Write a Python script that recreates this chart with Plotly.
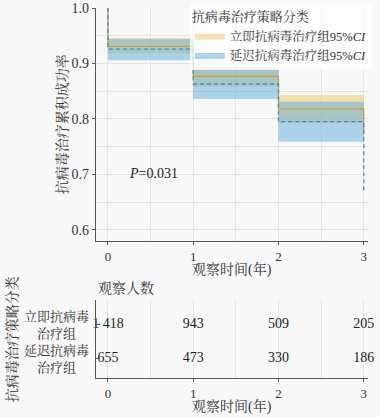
import plotly.graph_objects as go

# ---- data ----
km_times = [0, 0, 1, 2, 3, 3]
surv_immediate = [1.0, 0.931, 0.877, 0.818, 0.818, 0.775]
surv_delayed = [1.0, 0.926, 0.863, 0.795, 0.795, 0.667]

ci_times = [0, 1, 2, 3]
ci_imm_upper = [0.946, 0.894, 0.843, 0.843]
ci_imm_lower = [0.918, 0.858, 0.793, 0.793]
ci_del_upper = [0.944, 0.890, 0.831, 0.831]
ci_del_lower = [0.906, 0.836, 0.759, 0.759]

group_names = ["立即抗病毒治疗组95%<i>CI</i>", "延迟抗病毒治疗组95%<i>CI</i>"]
row_labels = ["立即抗病毒<br>治疗组", "延迟抗病毒<br>治疗组"]
risk_times = [0, 1, 2, 3]
risk_immediate = ["1 418", "943", "509", "205"]
risk_delayed = ["655", "473", "330", "186"]
p_text = "<i>P</i>=0.031"

# ---- styles ----
FONT = "Liberation Serif, Times New Roman, Noto Serif CJK SC, Noto Sans CJK SC, serif"
ORANGE_FILL = "rgba(238,196,92,0.48)"
BLUE_FILL = "rgba(92,172,216,0.50)"
ORANGE_LINE = "#c9a13f"
BLUE_LINE = "#3d8fc2"
AXIS = "#555555"
GRID = "#e4e4e4"
BG = "#f8f8f8"

fig = go.Figure()

# CI bands
fig.add_trace(go.Scatter(x=ci_times, y=ci_imm_lower, mode="lines", line=dict(width=0, shape="hv"),
                         showlegend=False, hoverinfo="skip", xaxis="x", yaxis="y"))
fig.add_trace(go.Scatter(x=ci_times, y=ci_imm_upper, mode="lines", line=dict(width=0, shape="hv", color=ORANGE_LINE),
                         fill="tonexty", fillcolor=ORANGE_FILL, name=group_names[0], xaxis="x", yaxis="y"))
fig.add_trace(go.Scatter(x=ci_times, y=ci_del_lower, mode="lines", line=dict(width=0, shape="hv"),
                         showlegend=False, hoverinfo="skip", xaxis="x", yaxis="y"))
fig.add_trace(go.Scatter(x=ci_times, y=ci_del_upper, mode="lines", line=dict(width=0, shape="hv", color=BLUE_LINE),
                         fill="tonexty", fillcolor=BLUE_FILL, name=group_names[1], xaxis="x", yaxis="y"))

# KM lines
fig.add_trace(go.Scatter(x=km_times, y=surv_immediate, mode="lines",
                         line=dict(color=ORANGE_LINE, width=1.3, shape="hv"),
                         showlegend=False, xaxis="x", yaxis="y"))
fig.add_trace(go.Scatter(x=km_times, y=surv_delayed, mode="lines",
                         line=dict(color=BLUE_LINE, width=1.3, shape="hv", dash="4px,3px"),
                         showlegend=False, xaxis="x", yaxis="y"))

# risk table
fig.add_trace(go.Scatter(x=risk_times, y=[row_labels[0]] * len(risk_times), mode="text",
                         text=risk_immediate, textfont=dict(family=FONT, size=14, color="#222"),
                         showlegend=False, cliponaxis=False, xaxis="x2", yaxis="y2"))
fig.add_trace(go.Scatter(x=risk_times, y=[row_labels[1]] * len(risk_times), mode="text",
                         text=risk_delayed, textfont=dict(family=FONT, size=14, color="#222"),
                         showlegend=False, cliponaxis=False, xaxis="x2", yaxis="y2"))

axis_common = dict(showline=True, linecolor=AXIS, linewidth=1.3, ticks="outside", ticklen=3,
                   tickcolor=AXIS, tickfont=dict(family=FONT, size=14, color="#333"),
                   gridcolor=GRID, zeroline=False)

fig.update_layout(
    width=380, height=417,
    paper_bgcolor=BG, plot_bgcolor=BG,
    margin=dict(l=96, r=12, t=8, b=39, autoexpand=False),
    font=dict(family=FONT, size=13, color="#333"),
    xaxis=dict(domain=[0, 1], range=[-0.14, 3.05], tickvals=[0, 1, 2, 3], anchor="y",
               minor=dict(dtick=0.5, showgrid=True, gridcolor=GRID), **axis_common),
    yaxis=dict(domain=[0.3703, 1], range=[0.58, 1.0], tickvals=[0.6, 0.7, 0.8, 0.9, 1.0],
               tickformat=".1f", anchor="x",
               minor=dict(dtick=0.05, showgrid=True, gridcolor=GRID), **axis_common),
    xaxis2=dict(domain=[0, 1], range=[-0.14, 3.05], tickvals=[0, 1, 2, 3], anchor="y2",
                minor=dict(dtick=0.5, showgrid=True, gridcolor=GRID), **axis_common),
    yaxis2=dict(domain=[0, 0.2108], type="category", categoryorder="array",
                categoryarray=[row_labels[1], row_labels[0]], range=[-0.56, 1.73],
                anchor="x2", showline=True, linecolor=AXIS, linewidth=1.3, ticks="inside",
                ticklen=4, tickcolor=AXIS, showticklabels=False, showgrid=False, zeroline=False),
    legend=dict(x=0.345, y=1.01, xanchor="left", yanchor="top", traceorder="normal",
                bgcolor="rgba(255,255,255,0.75)", borderwidth=0,
                font=dict(family=FONT, size=12.5, color="#333"),
                title=dict(text="抗病毒治疗策略分类", font=dict(family=FONT, size=13, color="#333")),
                tracegroupgap=0, itemwidth=30),
)
fig.update_xaxes(tickfont=dict(size=13))

annotations = [
    dict(text=p_text, x=0.54, y=0.701, xref="x", yref="y", showarrow=False,
         font=dict(family=FONT, size=14, color="#222")),
    dict(text="抗病毒治疗累积成功率", x=0, xshift=-34, y=0.6855, xref="paper", yref="paper",
         xanchor="center", yanchor="middle",
         showarrow=False, textangle=-90, font=dict(family=FONT, size=14, color="#333")),
    dict(text="观察时间(年)", x=0.5, y=0.3703, xref="paper", yref="paper", yshift=-29,
         xanchor="center", yanchor="middle",
         showarrow=False, font=dict(family=FONT, size=14, color="#333")),
    dict(text="观察时间(年)", x=0.5, y=0, xref="paper", yref="paper", yshift=-28,
         xanchor="center", yanchor="middle",
         showarrow=False, font=dict(family=FONT, size=14, color="#333")),
    dict(text="观察人数", x=0, y=0.2108, xref="paper", yref="paper", xanchor="left",
         yanchor="bottom", yshift=2, showarrow=False, font=dict(family=FONT, size=14, color="#333")),
    dict(text="抗病毒治疗策略分类", x=0, y=0.105, xref="paper", yref="paper", xshift=-84,
         xanchor="center", yanchor="middle",
         showarrow=False, textangle=-90, font=dict(family=FONT, size=14, color="#333")),
]
for lab in row_labels:
    annotations.append(dict(text=lab, x=0, y=lab, xref="paper", yref="y2", xanchor="right",
                            yanchor="middle", xshift=-5, align="center", showarrow=False,
                            font=dict(family=FONT, size=13, color="#333")))
fig.update_layout(annotations=annotations)

fig.write_html("out.html", config={"displayModeBar": False},
               post_script="document.body.style.margin='0';document.body.style.background='#f8f8f8';")
